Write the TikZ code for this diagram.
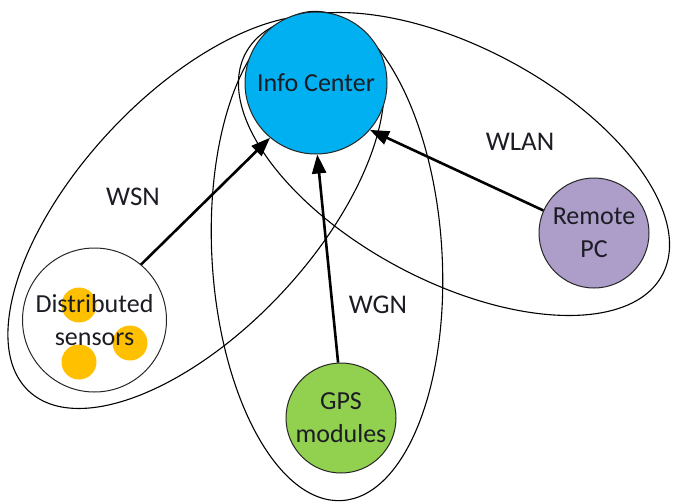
\documentclass[tikz,border=0pt]{standalone}
\usepackage{fontspec}
\setmainfont{Carlito}
\usetikzlibrary{arrows.meta,shapes.geometric}

\definecolor{infoblue}{RGB}{0,176,240}
\definecolor{gpsgreen}{RGB}{146,208,80}
\definecolor{pcpurple}{RGB}{172,157,201}
\definecolor{dotyellow}{RGB}{255,192,0}
\definecolor{inktext}{RGB}{28,28,36}

\tikzset{
  net/.style={draw=black, line width=1.1pt},
  station/.style={circle, draw=black!85, line width=1pt, align=center,
    text=inktext, font=\fontsize{26}{33}\selectfont, inner sep=0pt},
  sensordot/.style={circle, fill=dotyellow, minimum size=35pt, inner sep=0pt},
  netlabel/.style={text=inktext, font=\fontsize{27}{32}\selectfont},
  link/.style={line width=2.6pt, -{Triangle[length=19pt,width=14pt]}},
}

\begin{document}
\begin{tikzpicture}[x=1pt, y=-1pt]
\useasboundingbox (0,0) rectangle (673,504);

% network regions
\draw[net, shift={(196,212)}, rotate=47] (0,0) ellipse [x radius=245, y radius=118];
\draw[net, shift={(327,256)}, rotate=3.5] (0,0) ellipse [x radius=115, y radius=245];
\draw[net, shift={(454,164)}, rotate=-28] (0,0) ellipse [x radius=236, y radius=117];

% sensor dots sit under the label
\node[sensordot] (d1) at (79,305) {};
\node[sensordot] (d2) at (130,343) {};
\node[sensordot] (d3) at (79,362) {};

% stations
\node[station, fill=infoblue, minimum size=142pt] (info) at (316,83) {Info Center};
\node[station, minimum size=144pt] (sens) at (94.5,320) {Distributed\\sensors};
\node[station, fill=gpsgreen, minimum size=110pt] (gps) at (341,418) {GPS\\modules};
\node[station, fill=pcpurple, minimum size=110pt] (pc) at (594,233) {Remote\\PC};

% network names
\node[netlabel] (wsn) at (133,197) {WSN};
\node[netlabel] (wgn) at (378,305) {WGN};
\node[netlabel] (wlan) at (520,142) {WLAN};

% links to the info center
\draw[link] (sens.50) -- (info.230);
\draw[link] (gps.93) -- (info.271);
\draw[link] (pc.156) -- (info.319);
\end{tikzpicture}
\end{document}
